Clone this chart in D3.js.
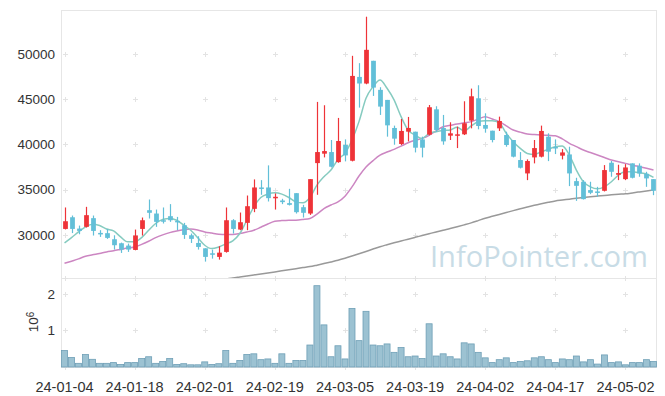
<!DOCTYPE html>
<html lang="en">
<head>
<meta charset="UTF-8">
<title>Candle chart</title>
<style>
  body { margin: 0; background: #fff; }
  text { font-family: "Liberation Sans", Arial, sans-serif; }
</style>
<script src="https://d3js.org/d3.v7.min.js"></script>
</head>
<body>
<div id="chart"></div>
<script>
// trading days
var dates = [
  "24-01-04","24-01-05","24-01-08","24-01-09","24-01-10","24-01-11","24-01-12","24-01-15","24-01-16","24-01-17",
  "24-01-18","24-01-19","24-01-22","24-01-23","24-01-24","24-01-25","24-01-26","24-01-29","24-01-30","24-01-31",
  "24-02-01","24-02-02","24-02-05","24-02-06","24-02-07","24-02-08","24-02-13","24-02-14","24-02-15","24-02-16",
  "24-02-19","24-02-20","24-02-21","24-02-22","24-02-23","24-02-26","24-02-27","24-02-28","24-02-29","24-03-04",
  "24-03-05","24-03-06","24-03-07","24-03-08","24-03-11","24-03-12","24-03-13","24-03-14","24-03-15","24-03-18",
  "24-03-19","24-03-20","24-03-21","24-03-22","24-03-25","24-03-26","24-03-27","24-03-28","24-03-29","24-04-01",
  "24-04-02","24-04-03","24-04-04","24-04-05","24-04-08","24-04-09","24-04-11","24-04-12","24-04-15","24-04-16",
  "24-04-17","24-04-18","24-04-19","24-04-22","24-04-23","24-04-24","24-04-25","24-04-26","24-04-29","24-04-30",
  "24-05-02","24-05-03","24-05-07","24-05-08","24-05-09"
];

var open = [30660,31950,30700,30890,31850,30220,30190,29520,29080,28820,
  28340,30660,32730,32360,31620,32070,31550,31070,29960,29110,
  28520,27970,27570,28120,31620,30590,31330,32880,35240,35240,
  34060,33800,33510,34610,33060,32360,37930,38970,39150,38040,
  39930,38190,47450,46720,49230,46020,44910,41810,40040,41400,
  41400,40550,41070,43870,41810,40960,40960,41110,42620,45090,
  42140,41510,41770,41030,40480,38270,36790,38560,38640,40850,
  39710,38750,38890,35940,35870,34950,34800,34870,37970,36640,
  36160,37900,37640,36750,36160];
var high = [33030,32140,31030,33100,32140,30520,30660,29960,29150,29040,
  30590,31920,33910,32800,33030,33400,31990,31330,30150,29850,
  28520,28380,28750,33030,31740,32470,34350,36130,36050,37680,
  34580,33990,35090,34610,33320,36160,44690,44320,40480,42920,
  40550,49780,48970,54100,49230,46310,44910,42070,42800,43030,
  41400,40850,44350,44210,43250,42440,41960,44760,46160,46530,
  43430,41510,43060,41400,40480,39150,38340,40480,42070,41220,
  40550,39480,39740,36310,36050,35870,35310,37710,38160,37750,
  37820,37900,37900,36970,36160];
var low = [30600,30200,30070,30810,29930,29780,29560,28380,28010,28120,
  28300,29930,31810,30890,31260,31440,30520,29560,29110,28380,
  27050,27380,27270,28040,30150,30520,30520,32510,34430,33690,
  32800,33400,33250,32360,31920,32210,34430,38560,37450,37970,
  38120,38120,44060,46640,45350,43250,40850,39960,39930,40330,
  39110,38560,41000,41370,39960,40480,39590,41030,41770,41660,
  41290,40220,41480,39740,38560,37340,36050,37900,38560,38150,
  38930,38340,35390,33760,33910,34500,34210,34800,36420,36050,
  36050,36240,36420,35310,34390];
var close = [31510,30660,30440,32180,30440,30150,29670,28860,28380,28380,
  29930,31620,32440,31440,31550,31620,31480,30000,29560,28670,
  27570,27900,28040,31620,30660,31400,33170,35240,35170,34060,
  34210,33620,33320,32510,32440,36160,39150,39260,37530,40370,
  38780,47560,46720,50440,46270,44170,42100,40630,41480,41810,
  39630,39630,44100,41590,40330,41220,41110,42330,45310,42030,
  41730,40480,42580,39930,38640,37420,38160,39590,41480,39190,
  39630,39110,36790,35420,33950,34650,34760,37160,36970,36830,
  37450,36310,36790,36240,34870];
var volume = [450000,260000,100000,340000,210000,100000,100000,120000,70000,120000,
  120000,230000,280000,100000,150000,230000,70000,90000,60000,60000,
  140000,70000,90000,450000,100000,180000,340000,360000,200000,220000,
  100000,360000,100000,180000,180000,600000,2220000,1150000,280000,580000,
  220000,1600000,720000,1520000,600000,580000,630000,400000,530000,280000,
  300000,230000,1180000,300000,360000,280000,220000,660000,630000,400000,
  250000,120000,200000,250000,120000,150000,170000,250000,280000,200000,
  120000,220000,200000,300000,140000,200000,80000,330000,120000,140000,
  60000,120000,120000,200000,150000];

var ma5 = [29110,29700,30330,30890,31180,31030,30660,30440,29780,29230,
  29230,29700,30520,31260,31700,31810,31620,31070,30520,29700,
  28860,28490,28670,29000,29340,30150,31620,33100,34130,34500,
  34650,34500,34130,33650,33540,34130,35500,36420,37160,38340,
  39000,40480,42510,45090,46380,47120,46200,44910,43060,41590,
  41030,40660,41220,41400,41520,41590,41880,41480,42030,42510,
  42620,42620,42400,41220,40300,39560,39000,38890,39190,39450,
  39740,39820,38820,37160,35870,35310,35090,35310,35870,36610,
  36970,36970,36860,36720,36350];
var ma20 = [26860,27100,27350,27640,27800,27950,28120,28250,28400,28550,
  28670,28950,29300,29700,30000,30250,30440,30580,30660,30550,
  30330,30200,30080,30040,30040,30150,30320,30520,30850,31200,
  31510,31580,31620,31630,31700,31810,32300,32900,33300,33650,
  34280,35300,36500,37500,38200,38800,39150,39450,39800,40180,
  40450,40660,41000,41500,41950,42100,42250,42380,42510,42800,
  43060,42800,42510,42050,41590,41350,41150,41080,41030,41000,
  40960,40600,40110,39750,39370,39100,38820,38550,38270,38080,
  37900,37700,37530,37350,37160];
var ma120 = [null,null,null,null,null,null,null,null,null,null,
  null,null,null,null,null,null,null,null,null,null,
  24800,24900,25000,25120,25250,25360,25470,25580,25690,25800,
  25910,26030,26150,26270,26390,26500,26660,26830,27010,27200,
  27420,27660,27910,28170,28440,28700,28920,29130,29330,29530,
  29730,29930,30130,30330,30520,30700,30900,31110,31330,31580,
  31840,32050,32260,32470,32680,32880,33080,33270,33440,33600,
  33750,33850,33950,34050,34140,34220,34290,34360,34430,34490,
  34540,34640,34750,34860,34970];

var priceTicks = [30000, 35000, 40000, 45000, 50000];
var volTicks = [1000000, 2000000];
var labelEvery = 10;

var width = 665, height = 396;
var left = 61, right = 657;
var priceTop = 10, priceBottom = 278, volBottom = 367;

var svg = d3.select("#chart").append("svg")
    .attr("width", width)
    .attr("height", height);

var x = d3.scaleBand()
    .domain(dates)
    .range([left, right])
    .paddingInner(0.32)
    .paddingOuter(0.16);
var cx = function(d) { return x(d) + x.bandwidth() / 2; };

var y = d3.scaleLinear().domain([25240, 54840]).range([priceBottom, priceTop]);
var yv = d3.scaleLinear().domain([0, 2430000]).range([volBottom, priceBottom]);

svg.append("defs").append("clipPath").attr("id", "clipPrice")
  .append("rect").attr("x", left).attr("y", priceTop)
  .attr("width", right - left).attr("height", priceBottom - priceTop);

// panel frames
svg.append("rect").attr("x", left + 0.5).attr("y", priceTop + 0.5)
  .attr("width", right - left - 1).attr("height", priceBottom - priceTop)
  .attr("fill", "none").attr("stroke", "#e6e6e6");
svg.append("rect").attr("x", left + 0.5).attr("y", priceBottom + 0.5)
  .attr("width", right - left - 1).attr("height", volBottom - priceBottom)
  .attr("fill", "none").attr("stroke", "#e6e6e6");

// grid crosses
var tickDates = dates.filter(function(d, i) { return i % labelEvery === 0; });
var crossY = priceTicks.map(y).concat([priceBottom]).concat(volTicks.map(yv)).concat([volBottom]);
var grid = svg.append("g").attr("stroke", "#e3e3e3").attr("stroke-width", 1);
tickDates.forEach(function(d) {
  crossY.forEach(function(yy) {
    var px = Math.round(cx(d)) + 0.5, py = Math.round(yy) + 0.5;
    grid.append("line").attr("x1", px - 2.5).attr("x2", px + 2.5).attr("y1", py).attr("y2", py);
    grid.append("line").attr("x1", px).attr("x2", px).attr("y1", py - 2.5).attr("y2", py + 2.5);
  });
});

// watermark
svg.append("text")
  .attr("x", 430).attr("y", 267)
  .attr("font-size", "30px")
  .attr("textLength", 218)
  .attr("lengthAdjust", "spacingAndGlyphs")
  .attr("fill", "#c8dce6")
  .style("font-family", "'Open Sans', sans-serif")
  .text("InfoPointer.com");

// moving averages
var plot = svg.append("g").attr("clip-path", "url(#clipPrice)");
var maLine = function(arr) {
  return d3.line()
    .defined(function(d) { return d != null; })
    .x(function(d, i) { return cx(dates[i]); })
    .y(function(d) { return y(d); })
    .curve(d3.curveMonotoneX)(arr);
};
plot.append("path").attr("d", maLine(ma120)).attr("fill", "none")
  .attr("stroke", "#999").attr("stroke-width", 1.5);
plot.append("path").attr("d", maLine(ma20)).attr("fill", "none")
  .attr("stroke", "#cc86c2").attr("stroke-width", 1.5);
plot.append("path").attr("d", maLine(ma5)).attr("fill", "none")
  .attr("stroke", "#86cbc0").attr("stroke-width", 1.5);

// candles
var candles = plot.selectAll(".candle")
  .data(dates)
  .enter().append("g")
  .attr("class", "candle")
  .attr("fill", function(d, i) { return close[i] >= open[i] ? "#ee3338" : "#62bfd8"; })
  .attr("stroke", function(d, i) { return close[i] >= open[i] ? "#ee3338" : "#62bfd8"; });
candles.append("line")
  .attr("x1", function(d) { return Math.round(cx(d)) + 0.5; })
  .attr("x2", function(d) { return Math.round(cx(d)) + 0.5; })
  .attr("y1", function(d, i) { return y(high[i]); })
  .attr("y2", function(d, i) { return y(low[i]); })
  .attr("stroke-width", 1.2);
candles.append("rect")
  .attr("x", function(d) { return Math.round(cx(d)) + 0.5 - x.bandwidth() / 2; })
  .attr("width", x.bandwidth())
  .attr("y", function(d, i) { return y(Math.max(open[i], close[i])); })
  .attr("height", function(d, i) { return Math.max(1.5, Math.abs(y(open[i]) - y(close[i]))); })
  .attr("stroke", "none");

// volume bars
svg.append("g").selectAll("rect")
  .data(dates)
  .enter().append("rect")
  .attr("x", function(d) { return cx(d) - x.step() / 2 + 0.5; })
  .attr("width", x.step() - 1)
  .attr("y", function(d, i) { return yv(volume[i]); })
  .attr("height", function(d, i) { return volBottom - yv(volume[i]); })
  .attr("fill", "#9cc2d2")
  .attr("stroke", "#6e9fb6")
  .attr("stroke-width", 0.8);

// axes
var yAxis = svg.append("g").attr("font-size", "13.5px").attr("fill", "#333");
yAxis.selectAll("text.p").data(priceTicks).enter().append("text")
  .attr("x", 55).attr("y", function(d) { return y(d); })
  .attr("dy", "0.36em").attr("text-anchor", "end")
  .text(function(d) { return d; });
yAxis.selectAll("text.v").data(volTicks).enter().append("text")
  .attr("x", 55).attr("y", function(d) { return yv(d); })
  .attr("dy", "0.36em").attr("text-anchor", "end")
  .text(function(d) { return d / 1000000; });

var unit = svg.append("text")
  .attr("transform", "translate(38,322) rotate(-90)")
  .attr("text-anchor", "middle")
  .attr("font-size", "13.5px")
  .attr("fill", "#333");
unit.append("tspan").text("10");
unit.append("tspan").attr("dy", "-0.45em").attr("font-size", "10px").text("6");

var xAxis = d3.axisBottom(x)
  .tickValues(tickDates)
  .tickSize(0)
  .tickPadding(0);
var xg = svg.append("g")
  .attr("transform", "translate(0," + volBottom + ")")
  .call(xAxis);
xg.select(".domain").remove();
xg.selectAll("text")
  .attr("y", 15)
  .attr("font-size", "14.5px")
  .attr("fill", "#333")
  .style("font-family", "'Liberation Sans', Arial, sans-serif");
</script>
</body>
</html>
